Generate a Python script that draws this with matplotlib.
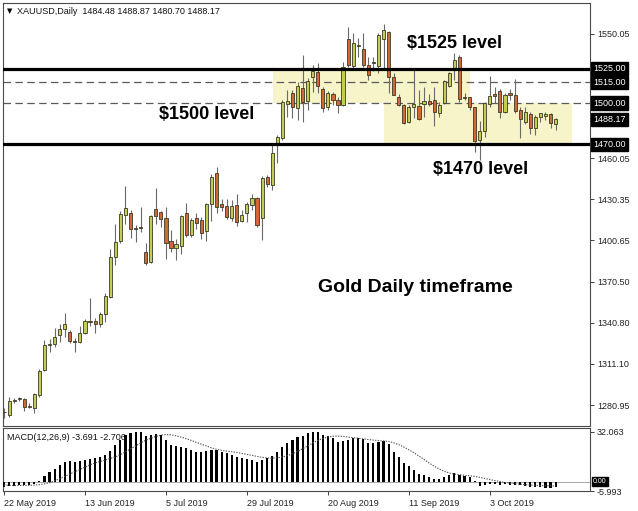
#!/usr/bin/env python3

import numpy as np
import matplotlib
matplotlib.use("Agg")
from matplotlib import pyplot as plt
from matplotlib.patches import Rectangle


W, H = 638, 511

# x axis labels: one every 16 daily bars
date_labels = ["22 May 2019", "13 Jun 2019", "5 Jul 2019", "29 Jul 2019",
               "20 Aug 2019", "11 Sep 2019", "3 Oct 2019"]
date_bars = [0, 16, 32, 48, 64, 80, 96]

# XAUUSD daily candles
opens = [1275.8, 1274.0, 1284.2, 1285.4, 1285.6, 1280.4, 1278.8, 1288.5, 1306.6, 1325.0,
         1325.4, 1331.9, 1336.1, 1334.3, 1327.5, 1327.1, 1333.6, 1342.3, 1342.3, 1339.9,
         1346.9, 1359.5, 1388.3, 1400.3, 1418.9, 1420.6, 1409.5, 1410.2, 1392.3, 1384.9,
         1423.5, 1421.1, 1416.5, 1400.3, 1395.2, 1396.7, 1420.1, 1404.4, 1416.5, 1415.3,
         1407.1, 1426.9, 1449.1, 1426.9, 1425.4, 1416.5, 1426.2, 1414.8, 1420.6, 1426.2,
         1431.0, 1416.5, 1446.2, 1440.6, 1471.1, 1474.5, 1499.3, 1507.5, 1496.2, 1510.7,
         1501.7, 1519.1, 1522.7, 1510.0, 1497.0, 1506.6, 1502.2, 1498.6, 1546.2, 1527.2,
         1541.5, 1539.0, 1527.6, 1529.6, 1526.9, 1546.1, 1551.7, 1519.1, 1504.2, 1498.3,
         1486.3, 1496.9, 1497.9, 1499.3, 1501.7, 1501.9, 1493.0, 1499.9, 1512.7, 1524.0,
         1533.4, 1504.6, 1504.2, 1496.9, 1472.9, 1479.8, 1499.3, 1506.4, 1508.9, 1493.8,
         1507.0, 1505.9, 1495.0, 1486.5, 1492.1, 1481.7, 1490.1, 1490.6, 1492.1, 1484.48]
highs = [1279.0, 1287.0, 1286.5, 1287.3, 1286.1, 1282.7, 1289.7, 1307.2, 1328.3, 1328.8,
         1337.2, 1339.9, 1348.1, 1335.6, 1329.6, 1338.5, 1343.3, 1358.9, 1344.0, 1348.8,
         1362.6, 1394.1, 1412.4, 1421.5, 1439.9, 1422.5, 1411.7, 1424.9, 1398.4, 1418.9,
         1438.2, 1421.8, 1424.5, 1408.0, 1401.3, 1418.9, 1427.8, 1416.5, 1420.1, 1417.7,
         1427.4, 1448.6, 1453.5, 1430.3, 1430.3, 1429.8, 1434.1, 1422.5, 1428.5, 1434.1,
         1432.2, 1447.2, 1447.9, 1469.6, 1476.9, 1502.2, 1509.5, 1509.5, 1515.3, 1534.8,
         1517.9, 1527.6, 1528.8, 1511.4, 1509.0, 1508.3, 1504.2, 1530.0, 1555.3, 1550.6,
         1546.9, 1550.6, 1533.2, 1533.4, 1550.6, 1557.3, 1552.4, 1522.0, 1506.6, 1499.3,
         1498.6, 1525.3, 1509.5, 1511.9, 1506.4, 1511.9, 1501.0, 1516.7, 1522.7, 1536.1,
         1534.8, 1507.1, 1504.6, 1497.4, 1487.2, 1500.6, 1519.6, 1511.4, 1510.0, 1507.1,
         1510.0, 1517.2, 1497.4, 1497.4, 1493.8, 1491.4, 1493.0, 1493.8, 1492.6, 1488.87]
lows = [1272.0, 1272.5, 1283.0, 1284.4, 1276.9, 1279.1, 1275.7, 1287.2, 1306.1, 1319.9,
        1323.5, 1327.1, 1330.7, 1326.4, 1319.9, 1325.9, 1332.7, 1338.5, 1333.2, 1337.5,
        1341.6, 1358.5, 1382.7, 1398.6, 1412.4, 1402.0, 1399.6, 1406.8, 1382.7, 1384.3,
        1412.4, 1410.4, 1387.0, 1392.3, 1386.3, 1390.6, 1402.7, 1402.7, 1408.5, 1401.3,
        1400.3, 1414.8, 1420.6, 1422.0, 1415.8, 1414.8, 1411.0, 1414.1, 1414.1, 1422.5,
        1410.4, 1400.8, 1439.0, 1437.0, 1456.4, 1473.3, 1490.1, 1488.9, 1487.7, 1486.5,
        1495.0, 1508.3, 1507.1, 1493.8, 1495.0, 1498.6, 1493.0, 1497.9, 1526.4, 1525.4,
        1533.6, 1526.4, 1516.7, 1523.5, 1522.0, 1525.2, 1507.1, 1505.9, 1497.9, 1484.6,
        1485.8, 1489.5, 1487.7, 1489.7, 1497.9, 1483.4, 1489.7, 1499.3, 1511.4, 1516.7,
        1501.0, 1502.2, 1495.0, 1464.8, 1458.8, 1475.2, 1497.4, 1499.9, 1488.9, 1492.6,
        1502.2, 1492.6, 1474.5, 1484.8, 1477.6, 1476.9, 1486.5, 1487.7, 1481.7, 1480.70]
closes = [1276.2, 1284.1, 1285.0, 1286.0, 1279.6, 1280.0, 1289.0, 1305.9, 1324.9, 1325.6,
          1330.3, 1336.1, 1339.9, 1327.8, 1327.0, 1333.6, 1342.3, 1341.4, 1339.9, 1346.9,
          1360.2, 1388.5, 1399.3, 1419.6, 1423.8, 1408.5, 1409.0, 1409.8, 1383.9, 1418.4,
          1418.4, 1415.8, 1398.8, 1395.2, 1397.9, 1418.2, 1404.4, 1415.3, 1413.3, 1406.1,
          1426.9, 1446.7, 1424.9, 1424.9, 1417.7, 1425.4, 1414.1, 1418.9, 1426.9, 1431.0,
          1411.7, 1445.5, 1441.4, 1464.0, 1475.4, 1501.0, 1501.5, 1497.0, 1512.4, 1501.0,
          1516.2, 1523.5, 1512.4, 1496.2, 1507.5, 1502.2, 1498.6, 1526.4, 1527.6, 1543.5,
          1542.0, 1527.6, 1520.4, 1529.3, 1549.3, 1552.9, 1519.1, 1506.2, 1498.6, 1485.4,
          1497.2, 1499.3, 1488.5, 1501.5, 1499.4, 1493.8, 1498.6, 1516.0, 1522.0, 1531.2,
          1502.9, 1504.0, 1497.2, 1472.5, 1479.8, 1500.1, 1505.1, 1505.1, 1493.2, 1505.9,
          1505.6, 1494.3, 1488.5, 1493.5, 1481.7, 1490.1, 1492.6, 1492.4, 1485.2, 1488.17]

# MACD(12,26,9): histogram = main line, dotted = signal
macd = [-3.4, -3.0, -2.6, -2.1, -2.1, -1.9, -1.3, 0.2, 3.4, 6.2,
        8.3, 10.5, 12.6, 13.2, 13.0, 13.5, 14.1, 14.5, 15.0, 15.6,
        17.1, 20.1, 23.5, 26.9, 29.9, 31.6, 31.8, 32.06, 29.7, 30.1,
        30.6, 30.3, 26.9, 23.5, 23.1, 22.2, 21.6, 20.5, 19.4, 19.0,
        19.7, 20.7, 20.5, 19.4, 18.4, 17.3, 15.8, 15.0, 14.5, 14.3,
        12.6, 14.1, 15.2, 16.7, 19.4, 22.6, 25.2, 26.9, 28.6, 29.7,
        31.2, 32.0, 31.8, 30.1, 29.5, 28.0, 25.9, 26.3, 26.9, 28.0,
        28.0, 27.4, 25.2, 25.2, 25.9, 26.1, 24.4, 19.4, 15.8, 12.0,
        9.8, 7.7, 4.9, 4.1, 3.0, 1.7, 1.9, 3.0, 4.5, 5.6,
        4.5, 3.8, 3.0, 0.5, -3.0, -2.4, -1.3, -1.5, -1.9, -1.5,
        -1.9, -1.9, -2.4, -3.0, -3.4, -3.6, -3.6, -3.8, -4.1, -3.691]
signal = [-2.2, -2.3, -2.4, -2.4, -2.4, -2.3, -2.2, -1.9, -1.4, -0.6,
          0.6, 1.9, 3.4, 4.9, 6.4, 7.9, 9.4, 10.9, 12.1, 13.0,
          14.0, 15.0, 16.0, 17.5, 19.2, 21.1, 23.0, 25.0, 26.7, 28.0,
          29.2, 30.0, 30.4, 30.2, 29.6, 28.7, 27.7, 26.6, 25.4, 24.2,
          23.0, 21.8, 20.9, 20.2, 19.7, 19.3, 18.8, 18.2, 17.6, 17.0,
          16.3, 15.7, 15.3, 15.2, 15.4, 15.9, 16.8, 18.0, 19.5, 21.2,
          23.0, 24.9, 26.6, 27.9, 28.8, 29.3, 29.4, 29.2, 28.8, 28.4,
          28.0, 27.6, 27.2, 26.8, 26.5, 26.3, 25.9, 25.1, 23.9, 22.4,
          20.6, 18.6, 16.5, 14.3, 12.1, 10.0, 8.2, 6.7, 5.6, 4.9,
          4.5, 4.1, 3.8, 3.4, 2.8, 2.1, 1.4, 0.7, 0.1, -0.5,
          -0.9, -1.3, -1.6, -1.9, -2.1, -2.3, -2.5, -2.6, -2.7, -2.706]

price_ticks = [1550.05, 1460.05, 1430.35, 1400.65, 1370.50, 1340.80, 1311.10, 1280.95]
solid_levels = [1525.0, 1470.0]
dashed_levels = [1515.0, 1500.0]
last_price = 1488.17
# highlighted zones: (first bar, last bar, low price, high price)
zones = [(53.2, 92.1, 1500.0, 1525.0), (75.1, 112.3, 1470.0, 1500.0)]

plt.rcParams['font.family'] = ['Liberation Sans', 'DejaVu Sans']

fig = plt.figure(figsize=(W / 100, H / 100), dpi=100)
fig.patch.set_facecolor('white')
ax = fig.add_axes([3 / W, 1 - 426 / H, 587 / W, 423 / H])
axm = fig.add_axes([3 / W, 1 - 491 / H, 587 / W, 63 / H])

x = np.arange(len(closes))
o = np.array(opens)
hi = np.array(highs)
lo = np.array(lows)
c = np.array(closes)
up = c >= o

# zones and levels
for x0, x1, p0, p1 in zones:
    ax.add_patch(Rectangle((x0, p0), x1 - x0, p1 - p0, facecolor='#f6f4c8',
                           edgecolor='none', zorder=1))
for lv in dashed_levels:
    ax.axhline(lv, color='#5a5a5a', lw=0.9, ls=(0, (6, 3.5)), zorder=2)
for lv in solid_levels:
    ax.axhline(lv, color='black', lw=2.3, zorder=5)

# candles
ax.vlines(x, lo, hi, color='#6a6a6a', lw=0.8, zorder=3)
body = np.maximum(np.abs(c - o), 0.4)
ax.bar(x, body, bottom=np.minimum(o, c), width=0.62,
       color=np.where(up, '#c3cd55', '#d2683a'), edgecolor='#3b3b25',
       linewidth=0.6, zorder=4)

ax.set_xlim(-0.2, 115.8)
ax.set_ylim(1266.0, 1572.5)
ax.set_xticks([])
ax.yaxis.tick_right()
ax.set_yticks(price_ticks)
ax.set_yticklabels([f"{v:.2f}" for v in price_ticks])
ax.tick_params(axis='y', length=3, width=0.6, pad=2, labelsize=6.5, colors='#222222')
for s in ax.spines.values():
    s.set_color('#4a4a4a')
    s.set_linewidth(0.8)

for v in solid_levels + dashed_levels + [last_price]:
    ax.text(1.005, v, f"{v:.2f}", transform=ax.get_yaxis_transform(), ha='left',
            va='center', fontsize=6.5, color='white', clip_on=False, zorder=6,
            bbox=dict(boxstyle='square,pad=0.25', fc='black', ec='black'))

bold = dict(fontweight='bold', color='black', ha='center', va='center', zorder=7)
ax.text(89.1, 1543.5, "$1525 level", fontsize=13, **bold)
ax.text(40.1, 1491.4, "$1500 level", fontsize=13, **bold)
ax.text(94.1, 1451.5, "$1470 level", fontsize=13, **bold)
ax.text(81.2, 1366.7, "Gold Daily timeframe", fontsize=14, **bold)

fig.text(7 / W, 1 - 11 / H, "\u25bc", fontsize=5, va='center', family='DejaVu Sans')
fig.text(17 / W, 1 - 11 / H, "XAUUSD,Daily  1484.48 1488.87 1480.70 1488.17",
         fontsize=6.5, va='center', color='#111111')

# MACD panel
axm.axhline(0, color='#9a9a9a', lw=0.6, zorder=1)
axm.bar(x, macd, width=0.42, color='black', zorder=3)
axm.plot(x, signal, color='#555555', lw=0.8, ls=(0, (1.2, 1.2)), zorder=4)
axm.set_xlim(-0.2, 115.8)
axm.set_ylim(-5.993, 34.6)
axm.yaxis.tick_right()
axm.set_yticks([32.063, -5.993])
axm.set_yticklabels(["32.063", "-5.993"])
axm.tick_params(axis='y', length=3, width=0.6, pad=2, labelsize=6.5, colors='#222222')
axm.set_xticks(date_bars)
axm.set_xticklabels(date_labels)
for lab in axm.get_xticklabels():
    lab.set_ha('left')
axm.tick_params(axis='x', length=3, width=0.6, pad=3, labelsize=6.5, colors='#222222')
for s in axm.spines.values():
    s.set_color('#4a4a4a')
    s.set_linewidth(0.8)
axm.text(1.005, 0, "0.00", transform=axm.get_yaxis_transform(), ha='left', va='center',
         fontsize=5, color='white', clip_on=False, zorder=6,
         bbox=dict(boxstyle='square,pad=0.15', fc='black', ec='black'))
fig.text(7 / W, 1 - 437 / H, "MACD(12,26,9) -3.691 -2.706", fontsize=6.5,
         va='center', color='#111111')

fig.savefig("out.png", dpi=100)
